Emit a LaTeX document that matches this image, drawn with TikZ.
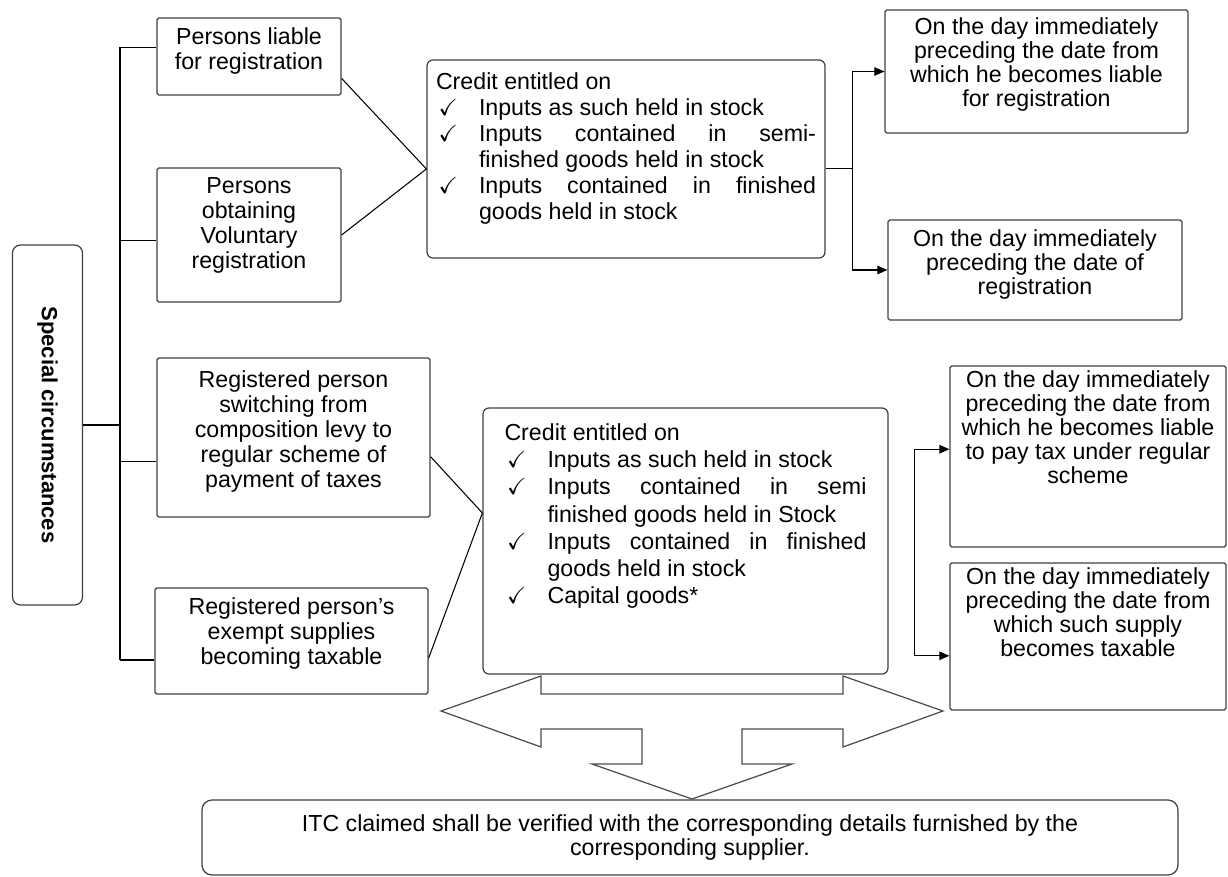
\documentclass[tikz,border=0pt]{standalone}
\usepackage{fontspec}
\setmainfont{Liberation Sans}
\usepackage{amssymb}
\usepackage{graphicx}
\usetikzlibrary{arrows.meta,calc}

% ticked item with hanging indent
\newcommand{\tick}[1]{\par\hangindent=8.6mm\hangafter=1\noindent\makebox[8.6mm][l]{\hspace{0.5mm}$\checkmark$}#1\par}

\begin{document}
\begin{tikzpicture}[x=0.2mm, y=-0.2mm,
  font=\fontsize{13.2}{14.2}\selectfont,
  >={Triangle[length=2mm, width=1.7mm]},
  box/.style={draw=black!75, line width=0.7pt, rounded corners=1pt},
  tbox/.style n args={3}{box, inner sep=0pt,
    execute at begin node={\begin{minipage}[c][#2][t]{#1}\centering\vspace*{#3}},
    execute at end node={\end{minipage}}},
  cbox/.style n args={3}{box, rounded corners=1.2mm, inner ysep=0pt,
    execute at begin node={\begin{minipage}[c][#2][t]{#1}\vspace*{#3}},
    execute at end node={\end{minipage}}},
  rbox/.style={font=\fontsize{13.2}{13.6}\selectfont},
  ln/.style={line width=0.6pt},
  blk/.style={draw=black!70, line width=0.7pt},
]
\useasboundingbox (0,0) rectangle (1228,877);

\node[box, rounded corners=1.6mm, minimum width=14mm, minimum height=72mm] (spec) at (47.5,425) {\rotatebox{-90}{\fontsize{12.5}{14}\selectfont\bfseries Special circumstances}};

\node[tbox={36.8mm}{15.4mm}{2mm}] (p1) at (249,56.5) {Persons liable\\for registration};
\node[tbox={36.8mm}{26.8mm}{2mm}] (p2) at (249,235) {Persons\\obtaining\\Voluntary\\registration};
\node[tbox={54.6mm}{31.8mm}{2.6mm}] (r1) at (293.5,437.5) {Registered person\\switching from\\composition levy to\\regular scheme of\\payment of taxes};
\node[tbox={54.6mm}{21.2mm}{2mm}] (r2) at (291.5,641) {Registered person's\\exempt supplies\\becoming taxable};

\node[cbox={76mm}{39.6mm}{2.6mm}, inner xsep=1.8mm, font=\fontsize{13.2}{14.8}\selectfont] (c1) at (626,159) {Credit entitled on
  \tick{Inputs as such held in stock}
  \tick{Inputs contained in semi-\linebreak finished goods held in stock}
  \tick{Inputs contained in finished\linebreak goods held in stock}};
\node[cbox={72.4mm}{53.2mm}{3.2mm}, inner xsep=4.3mm, font=\fontsize{13.2}{15.4}\selectfont] (c2) at (685.5,541) {Credit entitled on
  \tick{Inputs as such held in stock}
  \tick{Inputs contained in semi\linebreak finished goods held in Stock}
  \tick{Inputs contained in finished\linebreak goods held in stock}
  \tick{Capital goods*}};

\node[tbox={60.6mm}{24.6mm}{1.6mm}, rbox] (t1) at (1036.5,71.5) {On the day immediately\\preceding the date from\\which he becomes liable\\for registration};
\node[tbox={58.8mm}{20mm}{2mm}, rbox] (t2) at (1035,270) {On the day immediately\\preceding the date of\\registration};
\node[tbox={55.2mm}{36.2mm}{1mm}, rbox] (t3) at (1088,456.5) {On the day immediately\\preceding the date from\\which he becomes liable\\to pay tax under regular\\scheme};
\node[tbox={55.2mm}{29.4mm}{1mm}, rbox] (t4) at (1088,636.5) {On the day immediately\\preceding the date from\\which such supply\\becomes taxable};

\node[box, rounded corners=2mm, minimum width=195.2mm, minimum height=15mm, align=center, font=\fontsize{13.2}{13.2}\selectfont] (itc) at (690,837.5) {ITC claimed shall be verified with the corresponding details furnished by the\\corresponding supplier.};

% block arrow under the second credit box
\draw[blk] (541,694) -- (541,676) -- (441,711) -- (541,747) -- (541,729) -- (642,729) -- (642,764) -- (592,764) -- (692,799)
  -- (792,764) -- (742,764) -- (742,729) -- (843,729) -- (843,747) -- (943,711) -- (843,676) -- (843,694) -- cycle;

% trunk on the left
\coordinate (tbot) at (120,660);
\draw[ln] (spec.east) -- (spec.east -| tbot);
\foreach \n/\f in {p1/.39, p2/.54, r1/.65}
  \draw[ln] ($(\n.north west)!\f!(\n.south west)$) -| (tbot);
\draw[ln] (tbot) -- (tbot -| r2.west);

% into the credit boxes
\coordinate (c1in) at ($(c1.north west)!.55!(c1.south west)$);
\draw[ln] ($(p1.north east)!.78!(p1.south east)$) -- (c1in) -- (p2.east);
\coordinate (c2in) at ($(c2.north west)!.395!(c2.south west)$);
\draw[ln] ($(r1.north east)!.62!(r1.south east)$) -- (c2in) -- ($(r2.north east)!.66!(r2.south east)$);

% out to the dates
\draw[ln] ($(c1.north east)!.55!(c1.south east)$) -- ++(27,0) coordinate (j1);
\draw[ln,->] (j1) |- (t1.west);
\draw[ln,->] (j1) |- (t2.west);
\draw[ln,<->] ($(t3.north west)!.46!(t3.south west)$) -- ++(-35,0) |- ($(t4.north west)!.63!(t4.south west)$);
\end{tikzpicture}
\end{document}
